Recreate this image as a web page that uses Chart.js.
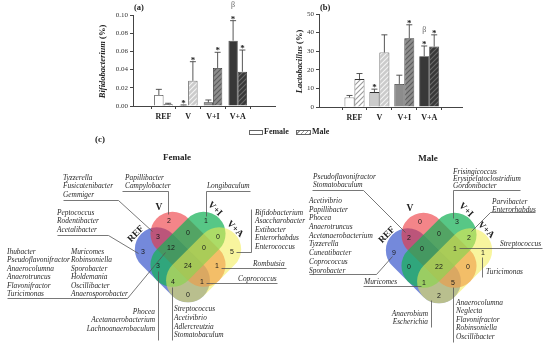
<!DOCTYPE html>
<html>
<head>
<meta charset="utf-8">
<script src="https://cdn.jsdelivr.net/npm/chart.js@4.4.1/dist/chart.umd.min.js"></script>
<style>
  html, body { margin: 0; padding: 0; background: #fff; }
  body { width: 550px; height: 349px; position: relative; overflow: hidden; }
  .pane { position: absolute; }
  #legend { position: absolute; left: 0; top: 126px; width: 550px; height: 12px; z-index: 2;
            font: bold 8px "Liberation Serif", serif; color: #222; }
  #legend span { position: absolute; top: 0; line-height: 12px; }
  #legend i { position: absolute; top: 4px; height: 3px; border: 1px solid #666; }
</style>
</head>
<body>
<div class="pane" style="left:90px;top:0;width:190px;height:128px"><canvas id="bifido"></canvas></div>
<div class="pane" style="left:275px;top:0;width:195px;height:128px"><canvas id="lacto"></canvas></div>
<div class="pane" style="left:0;top:125px;width:550px;height:224px"><canvas id="venn"></canvas></div>
<div id="legend">
  <i style="left:249px;width:12px;background:#fff"></i><span style="left:264px">Female</span>
  <i style="left:296px;width:13px;background:repeating-linear-gradient(-45deg,#9a9a9a 0 1px,#fff 1px 3px)"></i><span style="left:312px">Male</span>
</div>
<script>
// ---- bar panels (a) and (b) ----
const groups = ['REF', 'V', 'V+I', 'V+A'];

const bifFemale = [0.0121, 0.0008, 0.0040, 0.0718];
const bifFemaleTop = [0.0183, 0.0012, 0.0066, 0.0938];
const bifMale = [0.0018, 0.0277, 0.0418, 0.0377];
const bifMaleTop = [0.0030, 0.0487, 0.0590, 0.0615];
const bifStarFemale = [false, true, false, true];
const bifStarMale = [false, true, true, true];
const bifBeta = [false, false, false, true];

const lacFemale = [5.1, 8.0, 12.4, 27.3];
const lacFemaleTop = [6.2, 9.6, 17.1, 32.8];
const lacMale = [15.0, 29.3, 37.0, 32.5];
const lacMaleTop = [18.0, 38.8, 44.2, 38.8];
const lacStarFemale = [false, true, false, true];
const lacStarMale = [false, false, true, true];
const lacBeta = [false, false, false, true];

const bifTicks = [0, 0.02, 0.04, 0.06, 0.08, 0.10];
const lacTicks = [0, 10, 20, 30, 40, 50];

// ---- venn panel (c) ----
const vennSets = ['REF', 'V', 'V+I', 'V+A'];
const vennRegions = ['REF', 'V', 'V+I', 'V+A', 'REF|V', 'V|V+I', 'V+I|V+A', 'REF|V|V+I', 'V|V+I|V+A',
                     'REF|V+I', 'REF|V|V+I|V+A', 'V|V+A', 'REF|V+I|V+A', 'REF|V|V+A', 'REF|V+A'];
const femaleCounts = [3, 2, 1, 5, 3, 0, 0, 12, 0, 3, 24, 1, 4, 1, 0];
const maleCounts = [9, 0, 3, 1, 2, 0, 2, 0, 1, 0, 22, 0, 1, 5, 2];

const femaleGenera = [
  ['Tyzzerella', 'Fusicatenibacter', 'Gemmiger'],
  ['Papillibacter', 'Campylobacter'],
  ['Longibaculum'],
  ['Bifidobacterium', 'Asaccharobacter', 'Extibacter', 'Enterorhabdus', 'Enterococcus'],
  ['Rombutsia'],
  ['Coprococcus'],
  ['Peptococcus', 'Rodentibacter', 'Acetalibacter'],
  ['Ihubacter', 'Pseudoflavonifractor', 'Anaerocolumna', 'Anaerotruncus', 'Flavonifractor', 'Turicimonas'],
  ['Muricomes', 'Robinsoniella', 'Sporobacter', 'Holdemania', 'Oscillibacter', 'Anaerosporobacter'],
  ['Phocea', 'Acetanaerobacterium', 'Lachnoanaerobaculum'],
  ['Streptococcus', 'Acetivibrio', 'Adlercreutzia', 'Stomatobaculum']
];
const maleGenera = [
  ['Pseudoflavonifractor', 'Stomatobaculum'],
  ['Acetivibrio', 'Papillibacter', 'Phocea', 'Anaerotruncus', 'Acetanaerobacterium', 'Tyzzerella',
   'Cuneatibacter', 'Coprococcus', 'Sporobacter'],
  ['Muricomes'],
  ['Frisingicoccus', 'Erysipelatoclostridium', 'Gordonibacter'],
  ['Parvibacter', 'Enterorhabdus'],
  ['Streptococcus'],
  ['Turicimonas'],
  ['Anaerobium', 'Escherichia'],
  ['Anaerocolumna', 'Neglecta', 'Flavonifractor', 'Robinsoniella', 'Oscillibacter']
];

// layout of the venn (offsets from each diagram's origin, in page px)
const regionPos = [[-45, -10], [-19, -41], [18, -41], [44, -10], [-30, -25], [0, -29], [30, -25], [-17, -14],
                   [16, -14], [-30, 4], [0, 4], [29, 4], [-15, 20], [14, 20], [0, 33]];
// stadium shapes: half length 44, half width 22, tilted 45 deg
const shapes = [
  { dx: -15.6, dy: 2.8, rot: 45, color: 'rgba(62, 92, 205, 0.72)' },
  { dx: 0, dy: -12.7, rot: 45, color: 'rgba(236, 52, 58, 0.6)' },
  { dx: 0, dy: -12.7, rot: -45, color: 'rgba(22, 178, 88, 0.72)' },
  { dx: 15.6, dy: 2.8, rot: -45, color: 'rgba(242, 236, 78, 0.55)' }
];
const setLabelPos = [[-52, -28, -45], [-29, -54, 0], [27, -53, 45], [47, -33, 45]];

const femaleNotes = [
  { x: -125, y: -84, gap: 8.3, line: [[-125, -62], [-70, -62], [-36, -31]] },
  { x: -63, y: -84, gap: 8.3, line: [[-66, -71], [-20, -71], [-20, -48]] },
  { x: 19, y: -76, gap: 8.3, line: [[62, -71], [18, -71], [18, -46]] },
  { x: 67, y: -49, gap: 8.4, line: [[63, -53], [63, -10], [48, -10]] },
  { x: 65, y: 2, gap: 8.4, line: [[33, 6], [98, 6]] },
  { x: 50, y: 17, gap: 8.4, line: [[18, 21], [89, 21]] },
  { x: -131, y: -49, gap: 8.5, line: [[-131, -27], [-80, -27], [-50, -9]] },
  { x: -181, y: -10, gap: 8.4, line: null },
  { x: -117, y: -10, gap: 8.4, line: [[-181, 36], [-61, 36], [-23, -10]] },
  { x: -33, y: 50, gap: 8.5, right: true, line: [[-30, 9], [-30, 78]] },
  { x: -14, y: 47, gap: 8.8, line: [[-16, 25], [-16, 78]] }
];
const maleNotes = [
  { x: -126, y: -86, gap: 8.5, line: [[-127, -73], [-76, -73], [-34, -31]] },
  { x: -130, y: -62, gap: 8.7, line: [[-130, 11], [-63, 11], [-47, -7]] },
  { x: -75, y: 19, gap: 8.5, line: [[-76, 23], [-18, 23]] },
  { x: 14, y: -91, gap: 7.2, line: [[81, -73], [14, -73], [14, -45]] },
  { x: 53, y: -61, gap: 7.6, line: [[96, -51], [51, -51], [32, -32]] },
  { x: 61, y: -19, gap: 8.5, line: [[20, -15], [103, -15]] },
  { x: 47, y: 9, gap: 8.5, line: [[43, -6], [43, 14]] },
  { x: -11, y: 51, gap: 8.5, right: true, line: [[-8, 37], [-8, 64]] },
  { x: 17, y: 40, gap: 8.5, line: [[14, 24], [14, 79]] }
];

const serif = '"Liberation Serif", serif';
const fills = ['#ffffff', '#cbcbcb', '#8c8c8c', '#383838'];
const hatchLines = ['#9a9a9a', '#f4f4f4', '#5c5c5c', '#6c6c6c'];

function hatch(bg, fg) {
  const c = document.createElement('canvas');
  c.width = 5; c.height = 5;
  const g = c.getContext('2d');
  g.fillStyle = bg; g.fillRect(0, 0, 5, 5);
  g.strokeStyle = fg; g.lineWidth = 1.1;
  g.beginPath();
  g.moveTo(0, 5); g.lineTo(5, 0);
  g.moveTo(-1, 1); g.lineTo(1, -1);
  g.moveTo(4, 6); g.lineTo(6, 4);
  g.stroke();
  return g.createPattern(c, 'repeat');
}

const errorMarks = {
  id: 'errorMarks',
  afterDatasetsDraw(chart) {
    const { ctx, scales: { y } } = chart;
    ctx.save();
    chart.data.datasets.forEach((ds, di) => {
      chart.getDatasetMeta(di).data.forEach((bar, i) => {
        const top = y.getPixelForValue(ds.errTop[i]);
        const base = y.getPixelForValue(ds.data[i].y);
        ctx.strokeStyle = '#444';
        ctx.lineWidth = 0.9;
        ctx.beginPath();
        ctx.moveTo(bar.x, base); ctx.lineTo(bar.x, top);
        ctx.moveTo(bar.x - 3, top); ctx.lineTo(bar.x + 3, top);
        ctx.stroke();
        ctx.textAlign = 'center';
        if (ds.stars[i]) {
          ctx.fillStyle = '#222';
          ctx.font = 'bold 9px ' + serif;
          ctx.textBaseline = 'alphabetic';
          ctx.fillText('*', bar.x, top + 1);
        }
        if (ds.beta && ds.beta[i]) {
          ctx.fillStyle = '#666';
          ctx.font = '8px ' + serif;
          ctx.textBaseline = 'middle';
          ctx.fillText('β', bar.x, top - 16);
        }
      });
    });
    ctx.restore();
  }
};

const panelText = {
  id: 'panelText',
  afterDraw(chart, args, o) {
    const { ctx, chartArea } = chart;
    ctx.save();
    ctx.fillStyle = '#222';
    ctx.font = 'bold 8.5px ' + serif;
    ctx.textBaseline = 'middle';
    ctx.textAlign = 'left';
    ctx.fillText(o.tag, chartArea.left + 1, 8);
    // y title: italic genus + (%)
    ctx.translate(chartArea.left - o.titleGap, (chartArea.top + chartArea.bottom) / 2 + 1);
    ctx.rotate(-Math.PI / 2);
    const a = 'italic bold 8.5px ' + serif, b = 'bold 8.5px ' + serif;
    ctx.font = a; const w1 = ctx.measureText(o.genus).width;
    ctx.font = b; const w2 = ctx.measureText(' (%)').width;
    let x0 = -(w1 + w2) / 2;
    ctx.font = a; ctx.fillText(o.genus, x0, 0);
    ctx.font = b; ctx.fillText(' (%)', x0 + w1, 0);
    ctx.restore();
  }
};

function barChart(id, female, femaleTop, male, maleTop, sf, sm, beta, ticks, opt) {
  new Chart(document.getElementById(id), {
    type: 'bar',
    data: {
      datasets: [
        { label: 'Female', data: female.map((v, i) => ({ x: i + 1, y: v })), errTop: femaleTop,
          stars: sf, beta: beta, backgroundColor: fills, borderColor: '#333', borderWidth: 0.8 },
        { label: 'Male', data: male.map((v, i) => ({ x: i + 1, y: v })), errTop: maleTop,
          stars: sm, backgroundColor: fills.map((c, i) => hatch(c, hatchLines[i])), borderColor: '#333', borderWidth: 0.8 }
      ]
    },
    options: {
      responsive: true,
      maintainAspectRatio: false,
      animation: false,
      layout: { padding: { top: opt.top, right: opt.right, left: 0, bottom: 0 } },
      datasets: { bar: { categoryPercentage: opt.cat, barPercentage: 1 } },
      scales: {
        x: {
          type: 'linear', min: opt.xmin, max: opt.xmax,
          afterBuildTicks: s => { s.ticks = groups.map((g, i) => ({ value: i + 1 })); },
          afterFit: s => { s.height = opt.xh; },
          grid: { display: true, drawOnChartArea: false, tickLength: 3, color: '#444' },
          border: { color: '#444', width: 1 },
          ticks: { callback: v => groups[v - 1], font: { family: serif, size: 8, weight: 'bold' }, color: '#222', padding: 3, maxRotation: 0 }
        },
        y: {
          min: 0, max: ticks[ticks.length - 1],
          afterBuildTicks: s => { s.ticks = ticks.map(v => ({ value: v })); },
          afterFit: s => { s.width = opt.yw; },
          grid: { display: true, drawOnChartArea: false, tickLength: 3, color: '#444' },
          border: { color: '#444', width: 1 },
          ticks: { callback: opt.fmt, font: { family: serif, size: 7 }, color: '#333', padding: 2 }
        }
      },
      plugins: {
        legend: { display: false },
        tooltip: { enabled: false },
        panelText: { tag: opt.tag, genus: opt.genus, titleGap: opt.titleGap }
      }
    },
    plugins: [errorMarks, panelText]
  });
}

barChart('bifido', bifFemale, bifFemaleTop, bifMale, bifMaleTop, bifStarFemale, bifStarMale, bifBeta, bifTicks,
  { top: 15, right: 5, xh: 22, yw: 43, xmin: 0.485, xmax: 4.788, cat: 0.75, tag: '(a)',
    genus: 'Bifidobacterium', titleGap: 30, fmt: v => v.toFixed(2) });
barChart('lacto', lacFemale, lacFemaleTop, lacMale, lacMaleTop, lacStarFemale, lacStarMale, lacBeta, lacTicks,
  { top: 14, right: 8, xh: 21, yw: 44, xmin: 0.292, xmax: 4.599, cat: 0.8, tag: '(b)',
    genus: 'Lactobacillus', titleGap: 19, fmt: v => String(v) });

// ---- venn diagrams ----
const panels = [
  { title: 'Female', origin: [188, 262], counts: femaleCounts, genera: femaleGenera, notes: femaleNotes },
  { title: 'Male', origin: [439, 263], counts: maleCounts, genera: maleGenera, notes: maleNotes }
];

const vennDraw = {
  id: 'vennDraw',
  beforeDatasetsDraw(chart) {
    const { ctx, scales: { x, y } } = chart;
    const k = x.getPixelForValue(1) - x.getPixelForValue(0);
    const half = 22 * k;
    panels.forEach(p => {
      shapes.forEach(s => {
        ctx.save();
        ctx.translate(x.getPixelForValue(p.origin[0] + s.dx), y.getPixelForValue(p.origin[1] + s.dy));
        ctx.rotate(s.rot * Math.PI / 180);
        ctx.beginPath();
        ctx.arc(-half, 0, half, Math.PI / 2, Math.PI * 1.5);
        ctx.arc(half, 0, half, -Math.PI / 2, Math.PI / 2);
        ctx.closePath();
        ctx.fillStyle = s.color;
        ctx.fill();
        ctx.restore();
      });
    });
  },
  afterDatasetsDraw(chart) {
    const { ctx, scales: { x, y } } = chart;
    const px = (p, v) => x.getPixelForValue(p.origin[0] + v);
    const py = (p, v) => y.getPixelForValue(p.origin[1] + v);
    ctx.save();
    // counts
    ctx.font = '7px "Liberation Sans", sans-serif';
    ctx.fillStyle = '#1a1a1a';
    ctx.textAlign = 'center';
    ctx.textBaseline = 'middle';
    chart.data.datasets.forEach((ds, di) => {
      chart.getDatasetMeta(di).data.forEach((pt, i) => ctx.fillText(String(ds.data[i].count), pt.x, pt.y));
    });
    panels.forEach(p => {
      // set names
      ctx.font = 'bold 9.5px ' + serif;
      ctx.fillStyle = '#222';
      vennSets.forEach((s, i) => {
        const [dx, dy, r] = setLabelPos[i];
        ctx.save();
        ctx.translate(px(p, dx), py(p, dy));
        ctx.rotate(r * Math.PI / 180);
        ctx.fillText(s, 0, 0);
        ctx.restore();
      });
      // title
      ctx.font = 'bold 9px ' + serif;
      ctx.fillText(p.title, px(p, -11), py(p, -104));
      // genus notes
      ctx.strokeStyle = '#555';
      ctx.lineWidth = 0.8;
      p.notes.forEach((n, i) => {
        ctx.font = 'italic 7.4px ' + serif;
        ctx.fillStyle = '#2a2a2a';
        ctx.textAlign = n.right ? 'right' : 'left';
        p.genera[i].forEach((g, j) => ctx.fillText(g, px(p, n.x), py(p, n.y + j * n.gap)));
        if (n.line) {
          ctx.beginPath();
          n.line.forEach(([lx, ly], j) => {
            const X = Math.round(px(p, lx)) + 0.5, Y = Math.round(py(p, ly)) + 0.5;
            j ? ctx.lineTo(X, Y) : ctx.moveTo(X, Y);
          });
          ctx.stroke();
        }
      });
      ctx.textAlign = 'center';
    });
    ctx.font = 'bold 9px ' + serif;
    ctx.fillStyle = '#222';
    ctx.fillText('(c)', x.getPixelForValue(100), y.getPixelForValue(140));
    ctx.restore();
  }
};

new Chart(document.getElementById('venn'), {
  type: 'scatter',
  data: {
    datasets: panels.map(p => ({
      label: p.title,
      data: p.counts.map((c, i) => ({ x: p.origin[0] + regionPos[i][0], y: p.origin[1] + regionPos[i][1], count: c, region: vennRegions[i] })),
      pointRadius: 0
    }))
  },
  options: {
    responsive: true,
    maintainAspectRatio: false,
    animation: false,
    layout: { padding: 0 },
    scales: {
      x: { type: 'linear', min: 0, max: 550, display: false },
      y: { type: 'linear', min: 125, max: 349, reverse: true, display: false }
    },
    plugins: { legend: { display: false }, tooltip: { enabled: false } }
  },
  plugins: [vennDraw]
});
</script>
</body>
</html>
